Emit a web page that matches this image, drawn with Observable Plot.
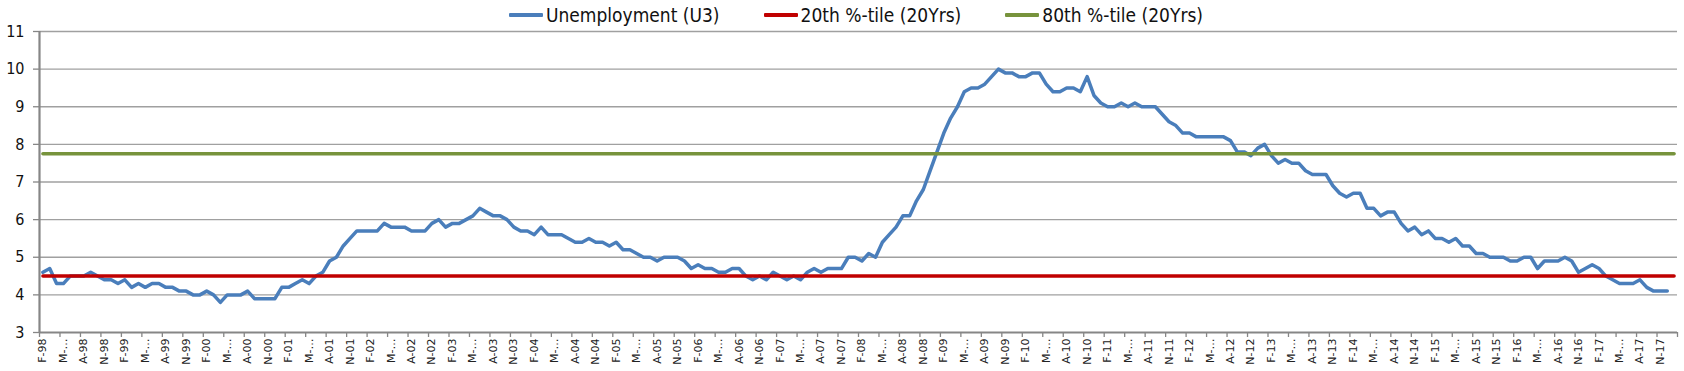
<!DOCTYPE html>
<html>
<head>
<meta charset="utf-8">
<script src="https://cdn.jsdelivr.net/npm/d3@7"></script>
<script src="https://cdn.jsdelivr.net/npm/@observablehq/plot@0.6"></script>
<style>
  body { margin: 0; background: #fff; }
  #wrap { position: relative; width: 1684px; height: 371px; }
  #legend {
    position: absolute; top: 3px; left: 0; width: 1684px; height: 24px;
    display: flex; justify-content: center; align-items: center; gap: 44px;
    font-family: "Liberation Sans Narrow", "DejaVu Sans Condensed", sans-serif;
    font-size: 19px; color: #111; transform: translateX(14px);
  }
  .item { display: flex; align-items: center; gap: 3px; }
  .sw { width: 34px; height: 4px; border-radius: 1px; }
</style>
</head>
<body>
<div id="wrap">
  <div id="chart"></div>
  <div id="legend"></div>
</div>
<script>
// Monthly U3 unemployment rate, Feb 1998 .. Dec 2017
const u3_1998 = [4.6, 4.7, 4.3, 4.3, 4.5, 4.5, 4.5, 4.6, 4.5, 4.4, 4.4]; // Feb-Dec
const u3_1999 = [4.3, 4.4, 4.2, 4.3, 4.2, 4.3, 4.3, 4.2, 4.2, 4.1, 4.1, 4.0];
const u3_2000 = [4.0, 4.1, 4.0, 3.8, 4.0, 4.0, 4.0, 4.1, 3.9, 3.9, 3.9, 3.9];
const u3_2001 = [4.2, 4.2, 4.3, 4.4, 4.3, 4.5, 4.6, 4.9, 5.0, 5.3, 5.5, 5.7];
const u3_2002 = [5.7, 5.7, 5.7, 5.9, 5.8, 5.8, 5.8, 5.7, 5.7, 5.7, 5.9, 6.0];
const u3_2003 = [5.8, 5.9, 5.9, 6.0, 6.1, 6.3, 6.2, 6.1, 6.1, 6.0, 5.8, 5.7];
const u3_2004 = [5.7, 5.6, 5.8, 5.6, 5.6, 5.6, 5.5, 5.4, 5.4, 5.5, 5.4, 5.4];
const u3_2005 = [5.3, 5.4, 5.2, 5.2, 5.1, 5.0, 5.0, 4.9, 5.0, 5.0, 5.0, 4.9];
const u3_2006 = [4.7, 4.8, 4.7, 4.7, 4.6, 4.6, 4.7, 4.7, 4.5, 4.4, 4.5, 4.4];
const u3_2007 = [4.6, 4.5, 4.4, 4.5, 4.4, 4.6, 4.7, 4.6, 4.7, 4.7, 4.7, 5.0];
const u3_2008 = [5.0, 4.9, 5.1, 5.0, 5.4, 5.6, 5.8, 6.1, 6.1, 6.5, 6.8, 7.3];
const u3_2009 = [7.8, 8.3, 8.7, 9.0, 9.4, 9.5, 9.5, 9.6, 9.8, 10.0, 9.9, 9.9];
const u3_2010 = [9.8, 9.8, 9.9, 9.9, 9.6, 9.4, 9.4, 9.5, 9.5, 9.4, 9.8, 9.3];
const u3_2011 = [9.1, 9.0, 9.0, 9.1, 9.0, 9.1, 9.0, 9.0, 9.0, 8.8, 8.6, 8.5];
const u3_2012 = [8.3, 8.3, 8.2, 8.2, 8.2, 8.2, 8.2, 8.1, 7.8, 7.8, 7.7, 7.9];
const u3_2013 = [8.0, 7.7, 7.5, 7.6, 7.5, 7.5, 7.3, 7.2, 7.2, 7.2, 6.9, 6.7];
const u3_2014 = [6.6, 6.7, 6.7, 6.3, 6.3, 6.1, 6.2, 6.2, 5.9, 5.7, 5.8, 5.6];
const u3_2015 = [5.7, 5.5, 5.5, 5.4, 5.5, 5.3, 5.3, 5.1, 5.1, 5.0, 5.0, 5.0];
const u3_2016 = [4.9, 4.9, 5.0, 5.0, 4.7, 4.9, 4.9, 4.9, 5.0, 4.9, 4.6, 4.7];
const u3_2017 = [4.8, 4.7, 4.5, 4.4, 4.3, 4.3, 4.3, 4.4, 4.2, 4.1, 4.1, 4.1];

const pct20 = 4.5;   // 20th %-tile (20Yrs)
const pct80 = 7.75;  // 80th %-tile (20Yrs)

const startYear = 1998, startMonth = 1; // 0-based month index: Feb
const nCategories = 240;                 // Feb 1998 .. Jan 2018
const yTicks = [3, 4, 5, 6, 7, 8, 9, 10, 11];
const monthLetters = ["J", "F", "M", "A", "M", "J", "J", "A", "S", "O", "N", "D"];

const seriesNames = ["Unemployment (U3)", "20th %-tile (20Yrs)", "80th %-tile (20Yrs)"];
const seriesColors = ["#4A7EBB", "#C00000", "#77933C"];

const u3 = [].concat(u3_1998, u3_1999, u3_2000, u3_2001, u3_2002, u3_2003, u3_2004,
  u3_2005, u3_2006, u3_2007, u3_2008, u3_2009, u3_2010, u3_2011, u3_2012, u3_2013,
  u3_2014, u3_2015, u3_2016, u3_2017);

const cats = d3.range(nCategories);
const u3Data = u3.map((v, i) => ({i, v}));
const p20Data = cats.map(i => ({i, v: pct20}));
const p80Data = cats.map(i => ({i, v: pct80}));

function catLabel(i) {
  const m = (startMonth + i) % 12;
  const y = startYear + Math.floor((startMonth + i) / 12);
  if (m === 4) return "M-\u2026";
  return monthLetters[m] + "-" + String(y % 100).padStart(2, "0");
}
const tickBounds = d3.range(0, nCategories + 1, 3);
const labelCats = d3.range(0, nCategories, 3);

const axisColor = "#868686";
const chart = Plot.plot({
  width: 1684, height: 371,
  marginLeft: 39, marginRight: 7, marginTop: 31, marginBottom: 39,
  x: {type: "linear", domain: [0, nCategories], axis: null},
  y: {domain: [3, 11], axis: null},
  marks: [
    Plot.gridY(yTicks.slice(1), {stroke: "#a0a0a0", strokeOpacity: 1, strokeWidth: 1.3}),
    Plot.axisY({ticks: yTicks, label: null, tickSize: 6, tickPadding: 9, stroke: axisColor, strokeWidth: 1.3,
      fontSize: 16, fontFamily: "Liberation Sans Narrow, DejaVu Sans Condensed, sans-serif", fill: "#111"}),
    Plot.axisX({ticks: tickBounds, label: null, tickSize: 5, stroke: axisColor, strokeWidth: 1.3, tickFormat: () => ""}),
    Plot.axisX({ticks: labelCats.map(i => i + 0.5), label: null, tickSize: 0, tickPadding: 6, tickRotate: -90,
      tickFormat: d => catLabel(Math.floor(d)), fontSize: 11, fontFamily: "DejaVu Sans, sans-serif", fill: "#222"}),
    Plot.line(u3Data, {x: d => d.i + 0.5, y: "v", stroke: seriesColors[0], strokeWidth: 3.5, strokeLinejoin: "round"}),
    Plot.line(p20Data, {x: d => d.i + 0.5, y: "v", stroke: seriesColors[1], strokeWidth: 3.5}),
    Plot.line(p80Data, {x: d => d.i + 0.5, y: "v", stroke: seriesColors[2], strokeWidth: 3.5}),
    Plot.ruleY([3], {stroke: axisColor, strokeWidth: 2.2}),
    Plot.ruleX([0], {stroke: axisColor, strokeWidth: 2.2})
  ]
});
document.getElementById("chart").appendChild(chart);

const legend = document.getElementById("legend");
seriesNames.forEach((name, k) => {
  const item = document.createElement("div");
  item.className = "item";
  const sw = document.createElement("span");
  sw.className = "sw";
  sw.style.background = seriesColors[k];
  const t = document.createElement("span");
  t.textContent = name;
  item.appendChild(sw); item.appendChild(t);
  legend.appendChild(item);
});
</script>
</body>
</html>
